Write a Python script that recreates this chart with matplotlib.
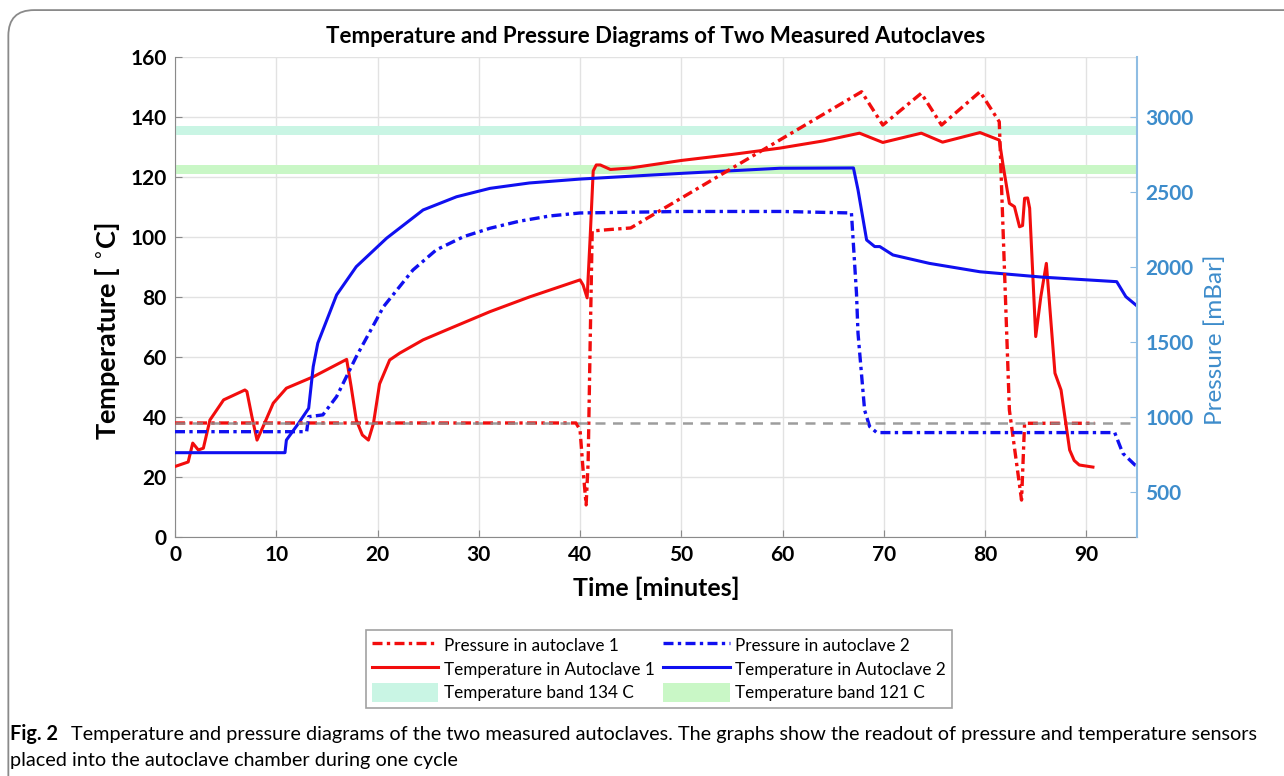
import matplotlib.pyplot as plt
from matplotlib.lines import Line2D
from matplotlib.patches import Patch, FancyBboxPatch

plt.rcParams['font.family'] = ['Lato', 'DejaVu Sans']

# temperature in autoclave 1 (C)
t1_time = [0, 1.3, 1.75, 2.3, 2.8, 3.45, 4.8, 6.9, 7.1, 7.6, 8.1, 8.7, 9.7, 11.0, 13.65, 16.95,
           17.4, 17.9, 18.5, 19.1, 19.6, 20.2, 21.2, 22.2, 24.5, 26.8, 31.1, 35.0, 40.0, 40.3,
           40.7, 41.0, 41.3, 41.6, 42.0, 43.0, 45.0, 50.0, 55.0, 59.7, 64.0, 67.6, 69.9, 73.7,
           75.8, 79.5, 81.4, 81.8, 82.4, 82.9, 83.4, 83.7, 83.9, 84.2, 84.4, 85.0, 85.5, 86.05,
           86.9, 87.5, 88.35, 88.8, 89.3, 90.65]
temp1 = [23.5, 25, 31.3, 29, 29.6, 39, 45.7, 49, 48.5, 40, 32.3, 36.8, 44.6, 49.6, 53.4, 59.2,
         50, 39, 34, 32.3, 37.9, 51, 59, 61.3, 65.7, 69, 75.1, 80, 85.7, 84,
         79.7, 100, 122, 124, 124, 122.5, 123, 125.5, 127.5, 129.6, 132, 134.6, 131.5, 134.6,
         131.6, 134.8, 132.3, 123.4, 111.2, 110.1, 103.4, 103.8, 112.9, 113, 109.6, 66.8, 80, 91.2,
         54.6, 49, 29, 25.5, 24, 23.3]

# temperature in autoclave 2 (C)
t2_time = [0, 10.86, 11.0, 12.2, 13.2, 13.65, 14.1, 15.96, 17.9, 20.9, 24.5, 27.8, 31.1, 35,
           40, 50, 59.7, 67.0, 67.45, 68.3, 69.1, 69.6, 70.9, 74.5, 79.5, 85.7, 93.0, 93.9,
           94.9, 95]
temp2 = [28.1, 28.1, 32.3, 37.9, 42.9, 56.8, 64.6, 80.7, 90.1, 99.6, 109, 113.4, 116.2, 118,
         119.3, 121.2, 122.9, 123, 115.7, 99, 96.8, 96.8, 94, 91.2, 88.4, 86.6, 85.1, 80.1,
         77.3, 77]

# pressure in autoclave 1 (mBar)
p1_time = [0, 39.6, 40.0, 40.3, 40.6, 40.8, 41.0, 41.2, 43.0, 45.0, 67.8, 69.9, 73.7, 75.7,
           79.5, 81.4, 82.4, 83.6, 83.9, 90.8]
pres1 = [960, 960, 914, 646, 414, 700, 1500, 2240, 2250, 2260, 3168, 2946, 3158, 2946,
         3168, 2968, 1046, 446, 958, 958]

# pressure in autoclave 2 (mBar)
p2_time = [0, 13.0, 13.2, 14.6, 15.96, 17.9, 20.6, 23.5, 25.8, 28.5, 31.1, 34.0, 37, 40, 50,
           60, 66.8, 67.3, 67.45, 68.1, 68.6, 69.3, 92.8, 93.6, 94.8, 95]
pres2 = [902, 902, 1002, 1014, 1136, 1402, 1736, 1980, 2114, 2202, 2258, 2305, 2340, 2360,
         2370, 2370, 2360, 1824, 1558, 1046, 936, 896, 896, 758, 680, 676]

band_134 = (134, 137)
band_121 = (121, 124)
atm_ref = 960

red = '#f20d0d'
blue = '#1010f0'
axblue = '#3d8ccb'
dashdot = (0, (3, 1.3, 1, 1.3))

fig = plt.figure(figsize=(12.84, 7.76), dpi=100)

# rounded frame around the figure panel
frame = FancyBboxPatch((0.0065, -0.05), 1.1, 1.037, boxstyle='round,pad=0,rounding_size=0.02',
                       transform=fig.transFigure, fill=False, edgecolor='#8a8a8a', lw=1.3,
                       mutation_aspect=1.65)
fig.patches.append(frame)

ax = fig.add_axes([0.1363, 0.308, 0.7492, 0.6186])
ax2 = ax.twinx()

ax.axhspan(*band_134, color='#c9f5e4', lw=0, zorder=1)
ax.axhspan(*band_121, color='#c9f7c6', lw=0, zorder=1)

ax.plot(t1_time, temp1, color=red, lw=2.2, zorder=3)
ax.plot(t2_time, temp2, color=blue, lw=2.2, zorder=3)

ax2.plot(p1_time, pres1, color=red, lw=2.4, ls=dashdot)
ax2.plot(p2_time, pres2, color=blue, lw=2.4, ls=dashdot)
ax2.axhline(atm_ref, color='#8c8c8c', lw=1.8, ls=(0, (4, 3)), alpha=0.85)

ax.set_xlim(0, 95)
ax.set_ylim(0, 160)
ax2.set_ylim(200, 3400)
ax.set_xticks(range(0, 91, 10))
ax.set_yticks(range(0, 161, 20))
ax2.set_yticks(range(500, 3001, 500))
ax.grid(True, color='#e2e2e2', lw=1)
ax.set_axisbelow(True)

for s in ['top', 'right']:
    ax.spines[s].set_visible(False)
for s in ['top', 'left', 'bottom']:
    ax2.spines[s].set_visible(False)
ax.spines['left'].set_color('#8a8a8a')
ax.spines['bottom'].set_color('#8a8a8a')
ax2.spines['right'].set_color('#8fbde3')
ax2.spines['right'].set_linewidth(1.5)

ax.tick_params(axis='both', direction='in', length=5, color='#8a8a8a', labelsize=15,
               pad=6)
ax2.tick_params(axis='y', direction='in', length=5, color='#8fbde3', labelcolor=axblue,
                labelsize=15, pad=6)
for lbl in ax.get_xticklabels() + ax.get_yticklabels():
    lbl.set_fontweight('bold')
for lbl in ax2.get_yticklabels():
    lbl.set_fontweight('bold')

ax.set_xlabel('Time [minutes]', fontsize=18, fontweight='bold', labelpad=8)
ax.set_ylabel('Temperature [ $^{\\circ}$C]', fontsize=19.5, fontweight='bold')
ax.yaxis.set_label_coords(-0.055, 0.43)
ax2.set_ylabel('Pressure [mBar]', fontsize=17.5, color=axblue)
ax2.yaxis.set_label_coords(1.07, 0.41)
ax.set_title('Temperature and Pressure Diagrams of Two Measured Autoclaves', fontsize=16,
             fontweight='bold', pad=10)

handles = [
    Line2D([], [], color=red, lw=2.4, ls=dashdot),
    Line2D([], [], color=red, lw=2.2),
    Patch(facecolor='#c9f5e4', edgecolor='none'),
    Line2D([], [], color=blue, lw=2.4, ls=dashdot),
    Line2D([], [], color=blue, lw=2.2),
    Patch(facecolor='#c9f7c6', edgecolor='none'),
]
labels = ['Pressure in autoclave 1', 'Temperature in Autoclave 1', 'Temperature band 134 C',
          'Pressure in autoclave 2', 'Temperature in Autoclave 2', 'Temperature band 121 C']
leg = fig.legend(handles, labels, ncol=2, loc='center', bbox_to_anchor=(0.513, 0.138),
                 fontsize=12.3, frameon=True, fancybox=False, edgecolor='#8a8a8a',
                 handlelength=3.9, handleheight=1.3, handletextpad=0.3, columnspacing=0.5,
                 labelspacing=0.3, borderpad=0.35)
leg.get_frame().set_linewidth(1.2)

fig.text(0.008, 0.054, 'Fig. 2', fontsize=14.3, fontweight='bold', va='center')
fig.text(0.0555, 0.054, 'Temperature and pressure diagrams of the two measured autoclaves. '
         'The graphs show the readout of pressure and temperature sensors',
         fontsize=14.3, va='center')
fig.text(0.008, 0.02, 'placed into the autoclave chamber during one cycle', fontsize=14.3,
         va='center')

fig.savefig('out.png', dpi=100)
